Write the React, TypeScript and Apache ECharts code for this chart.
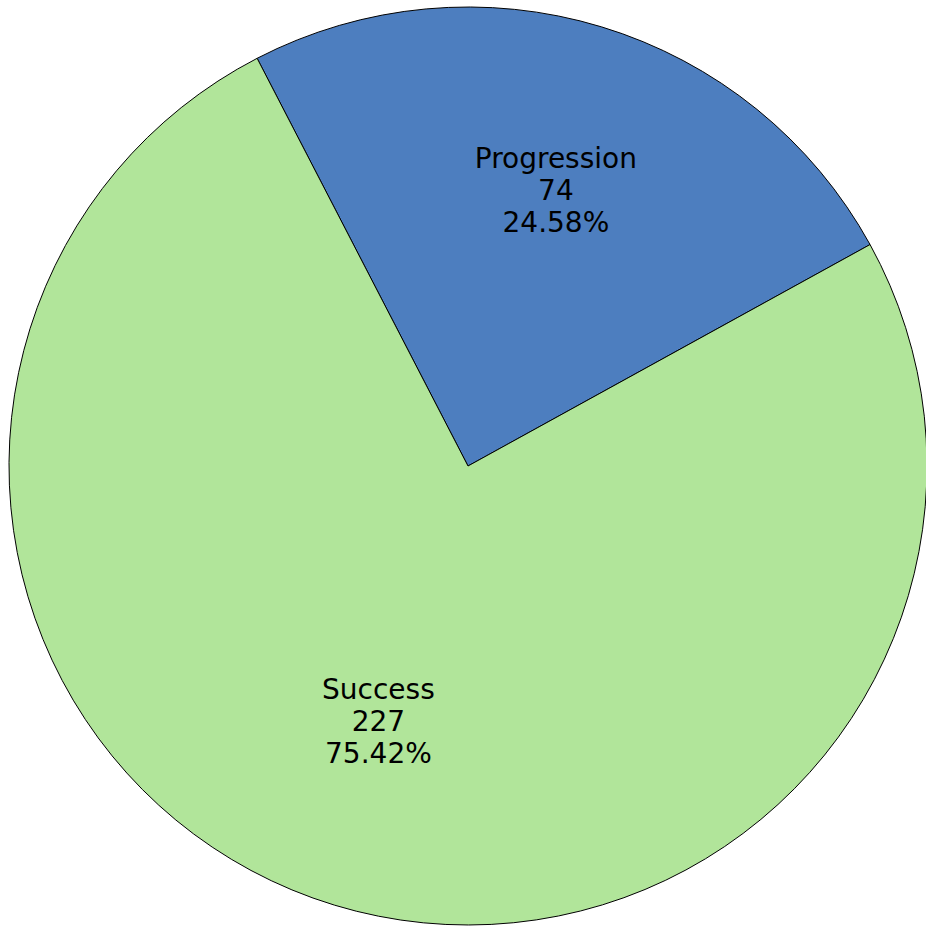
import React, { useEffect, useRef } from "react";
import * as echarts from "echarts";

const categories = ["Progression", "Success"];
const values = [74, 227];
const colors = ["#4d7ebf", "#b1e59a"];

export default function App() {
  const ref = useRef<HTMLDivElement>(null);
  useEffect(() => {
    if (!ref.current) return;
    const chart = echarts.init(ref.current, undefined, { renderer: "svg" });
    const center = [468, 466];
    const R = 459;
    const startAngle = 117.35;
    const baseData = categories.map((name, i) => ({
      name,
      value: values[i],
      itemStyle: { color: colors[i] },
    }));
    const labelStyle = {
      show: true,
      position: "inside",
      formatter: "{b}\n{c}\n{d}%",
      color: "#000",
      fontFamily: "DejaVu Sans",
      fontSize: 28,
      lineHeight: 32,
    };
    const labelSeries = (showIndex: number, r0: number, sa: number) => ({
      type: "pie",
      center,
      radius: [r0, R],
      startAngle: sa,
      silent: true,
      avoidLabelOverlap: false,
      labelLine: { show: false },
      itemStyle: { color: "rgba(0,0,0,0)", borderWidth: 0 },
      data: categories.map((name, i) => ({
        name,
        value: values[i],
        label: i === showIndex ? labelStyle : { show: false },
      })),
    });
    chart.setOption({
      animation: false,
      series: [
        {
          type: "pie",
          center,
          radius: R,
          startAngle,
          avoidLabelOverlap: false,
          label: { show: false },
          labelLine: { show: false },
          itemStyle: { borderColor: "#000", borderWidth: 1 },
          data: baseData,
        },
        labelSeries(0, 113, 116.55),
        labelSeries(1, 77, 114.95),
      ],
    });
    return () => chart.dispose();
  }, []);
  return (
    <div
      ref={ref}
      style={{ position: "fixed", left: 0, top: 0, width: 926, height: 927, background: "#fff" }}
    />
  );
}
